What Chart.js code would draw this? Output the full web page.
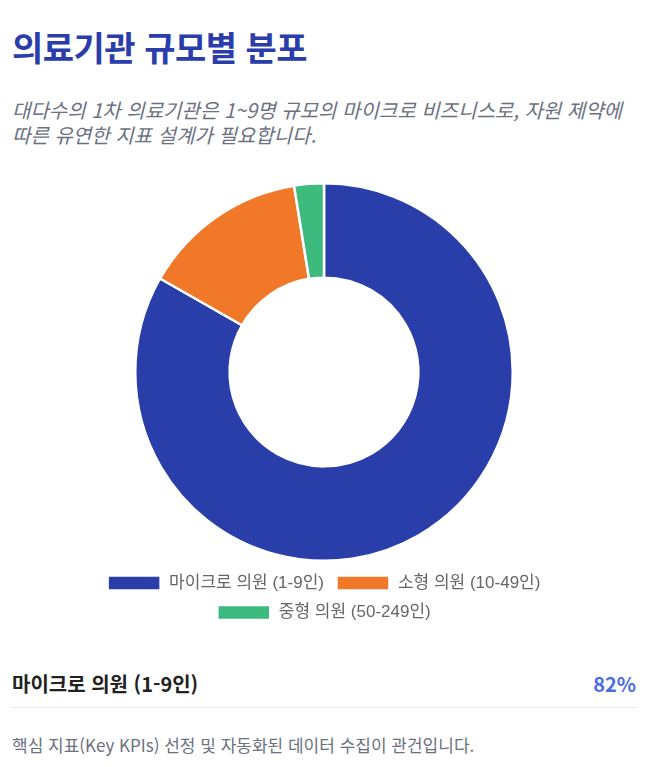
<!DOCTYPE html>
<html lang="ko">
<head>
<meta charset="utf-8">
<script src="https://cdn.jsdelivr.net/npm/chart.js@4.4.1/dist/chart.umd.min.js"></script>
<style>
  body { margin: 0; background: #fff; font-family: "Noto Sans CJK KR", "Noto Sans", sans-serif; }
  .card { width: 624px; padding: 0 12px; }
  h2 { margin: 0; padding-top: 27px; font-size: 34px; line-height: 40px; font-weight: 700; color: #2b3daa; letter-spacing: -0.5px; }
  .sub { margin: 30px 0 0; font-size: 20px; line-height: 25px; font-style: italic; color: #6b7180; }
  .chart-box { position: relative; height: 449px; margin-top: 35px; }
  .stat { display: flex; justify-content: space-between; align-items: center; margin-top: 39px; padding-bottom: 9px; border-bottom: 1px solid #e5e7eb; }
  .stat .name { font-size: 20px; line-height: 28px; font-weight: 700; color: #222; }
  .stat .val { font-size: 20px; line-height: 28px; font-weight: 700; color: #4a6ee0; }
  .note { margin: 25px 0 0; font-size: 17px; line-height: 24px; color: #6b7180; }
</style>
</head>
<body>
<div class="card">
  <h2>의료기관 규모별 분포</h2>
  <p class="sub">대다수의 1차 의료기관은 1~9명 규모의 마이크로 비즈니스로, 자원 제약에 따른 유연한 지표 설계가 필요합니다.</p>
  <div class="chart-box"><canvas id="sizeChart"></canvas></div>
  <div class="stat"><span class="name">마이크로 의원 (1-9인)</span><span class="val">82%</span></div>
  <p class="note">핵심 지표(Key KPIs) 선정 및 자동화된 데이터 수집이 관건입니다.</p>
</div>
<script>
const categories = ['마이크로 의원 (1-9인)', '소형 의원 (10-49인)', '중형 의원 (50-249인)'];
const shares = [82, 14, 2.5];
const colors = ['#2a3eaa', '#f07828', '#3dba7d'];

document.addEventListener("DOMContentLoaded", function() {
    const ctx = document.getElementById('sizeChart').getContext('2d');
    new Chart(ctx, {
        type: 'doughnut',
        data: {
            labels: categories,
            datasets: [{
                data: shares,
                backgroundColor: colors,
                borderColor: '#fff',
                borderWidth: 2.5
            }]
        },
        options: {
            maintainAspectRatio: false,
            animation: false,
            cutout: '50%',
            plugins: {
                legend: {
                    position: 'bottom',
                    labels: {
                        boxWidth: 53,
                        boxHeight: 15,
                        padding: 12.5,
                        color: '#666',
                        font: { size: 17, family: '"Liberation Sans", "Noto Sans CJK KR", sans-serif' }
                    }
                },
                tooltip: { enabled: false }
            }
        }
    });
});
</script>
</body>
</html>
